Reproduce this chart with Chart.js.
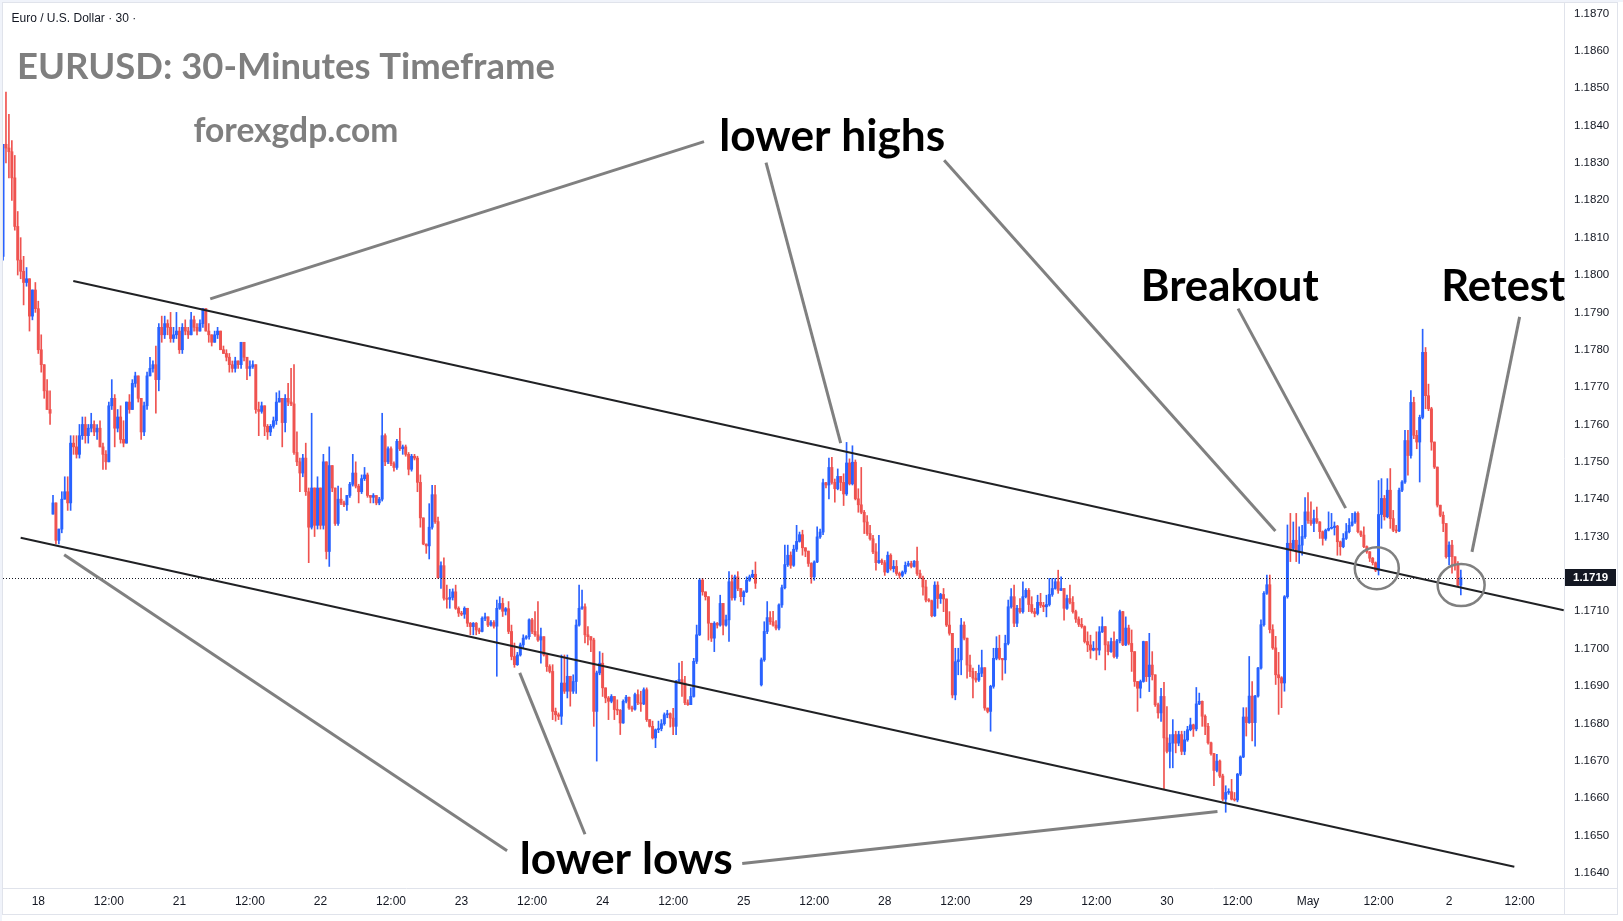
<!DOCTYPE html>
<html>
<head>
<meta charset="utf-8">
<title>EURUSD 30-Minutes Timeframe</title>
<script src="https://cdn.jsdelivr.net/npm/chart.js@4.4.1/dist/chart.umd.min.js"></script>
<style>
  html, body { margin: 0; padding: 0; background: #ffffff; overflow: hidden; }
  canvas { display: block; }
</style>
</head>
<body>
<canvas id="chart" width="1623" height="921"></canvas>
<script>
// 30 minute candles, slot 0 = 18 Apr 00:00, one slot per candle
const FIRST_SLOT = -12;

const opens = [
  1.1805,1.1835,1.1834,1.1833,1.1826,1.1813,1.1804,1.1801,1.1798,1.1799,1.1789,1.1796,
  1.1791,1.178,1.1776,1.1769,1.1764,1.1736,1.1739,1.1729,1.1732,1.174,1.1742,1.1739,1.1755,1.1754,1.1752,1.1757,1.176,1.1757,1.1759,1.176,1.1758,1.1759,1.1754,1.1752,
  1.175,1.1765,1.1767,1.1759,1.1762,1.1756,1.1755,1.1766,1.1764,1.1771,1.1773,1.1767,1.1758,1.1765,1.1773,1.1775,1.1776,1.1772,1.1786,1.1784,1.1787,1.1786,1.1783,1.1784,
  1.1785,1.178,1.1786,1.1785,1.1784,1.1788,1.1786,1.1785,1.1787,1.1791,1.1785,1.1784,1.1782,1.1784,1.1785,1.178,1.1779,1.1778,1.1776,1.1775,1.1777,1.1776,1.1782,1.1778,
  1.1775,1.17755,1.1776,1.1764,1.17635,1.1765,1.17595,1.1758,1.17595,1.1761,1.1766,1.1767,1.17605,1.1767,1.1766,1.17655,1.17525,1.175,1.1747,1.1751,1.1742,1.17325,1.1743,1.1733,
  1.1743,1.1733,1.175,1.1726,1.1749,1.1743,1.17335,1.174,1.1739,1.17385,1.1741,1.1744,1.1747,1.17435,1.1742,1.17455,1.17465,1.1741,1.17405,1.1741,1.1739,1.174,1.1757,1.175,
  1.17535,1.17495,1.17485,1.17555,1.17535,1.1754,1.1752,1.1748,1.17515,1.1751,1.17445,1.1735,1.1728,1.17275,1.17325,1.17412,1.1734,1.1719,1.17222,1.17135,1.17132,1.17137,1.17152,1.17108,
  1.17095,1.17092,1.17108,1.17068,1.17059,1.17068,1.1705,1.17046,1.17081,1.17085,1.17063,1.1707,1.1706,1.17108,1.17121,1.171,1.17107,1.17046,1.16979,1.16957,1.16983,1.1701,1.17028,1.17032,
  1.17077,1.17046,1.17037,1.17023,1.17032,1.16983,1.16952,1.16939,1.16832,1.16823,1.16819,1.16908,1.16886,1.16926,1.16886,1.16912,1.17063,1.17108,1.17112,1.17037,1.17032,1.17023,1.16832,1.16935,
  1.16961,1.16895,1.16868,1.16859,1.16872,1.16837,1.16835,1.16801,1.16859,1.1687,1.16841,1.16838,1.16877,1.16855,1.16852,1.1689,1.1681,1.16792,1.16761,1.16783,1.16786,1.16799,1.16823,1.16826,
  1.16814,1.16792,1.16912,1.16917,1.16908,1.16855,1.1685,1.16872,1.16966,1.17037,1.17183,1.17152,1.17139,1.17068,1.17028,1.17068,1.17063,1.17121,1.17063,1.17077,1.17179,1.17136,1.17192,1.17161,
  1.17139,1.17152,1.17183,1.17192,1.17199,null,1.16903,1.1697,1.17046,1.17083,1.17072,1.17063,1.17055,1.17117,1.17163,1.17225,1.1725,1.17223,1.17266,1.17287,1.17305,1.1727,1.17261,1.17228,
  1.17192,1.17232,1.17299,1.17312,1.17444,1.17438,1.17485,1.17445,1.17428,1.17461,1.17445,1.17414,1.17497,1.17441,1.17499,1.17401,1.17385,1.17365,1.17339,1.17308,1.17294,1.17259,1.1723,1.17236,
  1.1723,1.17205,1.1725,1.17214,1.1722,1.17201,1.17196,1.17205,1.17223,1.17228,1.1722,1.17234,1.17201,1.17189,1.17165,1.1713,1.17128,1.17088,1.1717,1.17134,1.17145,1.17133,1.17063,1.17041,
  1.16876,1.16965,1.1697,1.17063,1.17028,1.16956,1.16939,1.16921,1.16916,1.16934,1.16949,1.16841,1.16832,1.16899,1.16974,1.17001,1.16974,1.1697,1.17014,1.17112,1.17139,1.17068,1.17108,1.17099,
  1.17139,1.17156,1.17118,1.17099,1.17094,1.17124,1.17116,1.17112,1.17118,1.17145,1.17161,1.17179,1.17156,1.17161,1.17108,1.17134,1.17124,1.17099,1.17079,1.17065,1.17059,1.17019,1.1701,1.16996,
  1.17001,1.16996,1.17045,1.17059,1.1701,1.16992,1.17019,1.16979,1.17021,1.17099,1.1701,1.17055,1.17014,1.16992,1.16912,1.16894,1.16912,1.17019,1.16925,1.16956,1.1693,1.1685,1.16828,1.16872,
  1.16761,1.16725,1.16747,1.1677,1.16747,1.1677,1.16725,1.16756,1.16783,1.16796,1.16785,1.16852,1.16859,1.16819,1.16792,1.16748,1.16719,1.16674,1.16699,1.16659,1.16597,1.16615,1.16617,1.16597,
  1.16595,1.16664,1.1671,1.16817,1.16802,1.16873,1.16802,1.16873,1.16948,1.17064,1.17148,1.17171,1.17051,1.17002,1.1693,1.16922,1.16908,1.17139,1.17282,1.17268,1.1729,1.17259,1.17277,1.173,
  1.17366,1.17343,1.17335,1.17348,1.17339,1.17313,1.17295,1.17317,1.17322,1.17324,1.17328,1.17286,1.17273,1.17295,1.17313,1.1733,1.17339,1.17362,1.17313,1.17304,1.17273,1.17259,1.17242,1.1723,
  1.1721,1.17359,1.17402,1.17353,1.17424,1.17348,1.17317,1.17315,1.17424,1.17446,1.17557,1.17517,1.17659,1.17571,1.17553,1.17619,1.17793,1.17677,1.17642,1.17553,1.17486,1.17384,1.17357,1.17335,
  1.17246,1.17277,1.17246,1.17224,1.1717
];

const highs = [
  1.1835,1.1849,1.1843,1.1836,1.1832,1.1817,1.181,1.1805,1.1802,1.1799,1.1796,1.1798,
  1.1793,1.1784,1.1776,1.1772,1.1769,1.1741,1.1739,1.1732,1.1742,1.1746,1.1746,1.1757,1.1757,1.1757,1.176,1.1762,1.1762,1.176,1.1763,1.1761,1.176,1.1761,1.1755,1.1753,
  1.1766,1.1772,1.1768,1.1764,1.1765,1.1761,1.1766,1.1768,1.1772,1.1774,1.1773,1.1767,1.1766,1.1774,1.1778,1.1777,1.1781,1.1787,1.1789,1.1789,1.1788,1.179,1.1786,1.179,
  1.1786,1.1787,1.1788,1.1786,1.179,1.1789,1.1787,1.1788,1.1791,1.1791,1.1787,1.1784,1.1785,1.1786,1.1785,1.1781,1.178,1.1779,1.1777,1.1778,1.1777,1.1782,1.1782,1.1778,
  1.1777,1.1777,1.1776,1.1766,1.1766,1.1765,1.176,1.176,1.1762,1.17685,1.1769,1.1767,1.1768,1.1771,1.1775,1.1776,1.1758,1.1751,1.1752,1.1755,1.1743,1.1763,1.1743,1.1746,
  1.1743,1.1752,1.175,1.1754,1.1749,1.1743,1.17435,1.1743,1.17395,1.1741,1.17445,1.1752,1.175,1.1744,1.17465,1.17485,1.1747,1.1741,1.17415,1.1741,1.17405,1.1763,1.17575,1.1754,
  1.1754,1.175,1.1756,1.1759,1.17545,1.17545,1.17525,1.1752,1.1752,1.17515,1.17465,1.1735,1.1728,1.17388,1.17437,1.17437,1.17352,1.17232,1.17243,1.1717,1.17159,1.1716,1.1717,1.17112,
  1.171,1.17112,1.17108,1.1707,1.1707,1.1707,1.17055,1.17085,1.17095,1.17085,1.17075,1.17075,1.1713,1.17139,1.17135,1.1711,1.17126,1.17063,1.17015,1.1699,1.17015,1.17037,1.17035,1.1708,
  1.17081,1.17099,1.17126,1.17055,1.17032,1.16983,1.16957,1.16957,1.16841,1.16828,1.16983,1.16983,1.16983,1.16926,1.1693,1.17077,1.1717,1.17157,1.1712,1.17059,1.17032,1.17028,1.1694,1.16992,
  1.16988,1.16895,1.16872,1.16877,1.16872,1.16863,1.16837,1.16863,1.16875,1.1687,1.16846,1.16881,1.1689,1.16886,1.16895,1.16895,1.1681,1.16806,1.16785,1.16806,1.1681,1.16828,1.16835,1.16828,
  1.1684,1.16915,1.16961,1.16966,1.16926,1.16863,1.16895,1.16974,1.17063,1.17188,1.17188,1.17152,1.17139,1.17068,1.17072,1.1707,1.17143,1.17121,1.1709,1.17206,1.17197,1.17197,1.17206,1.17161,
  1.17155,1.17192,1.17197,1.1721,1.17232,null,1.16975,1.17072,1.17126,1.17099,1.171,1.17075,1.1712,1.1717,1.17277,1.17277,1.17259,1.17277,1.1733,1.17312,1.17317,1.1727,1.17261,1.1723,
  1.17235,1.17326,1.1732,1.17454,1.17445,1.1751,1.17512,1.17454,1.17481,1.17461,1.17468,1.17552,1.17508,1.17543,1.17505,1.17428,1.17485,1.1737,1.17356,1.1733,1.17303,1.17281,1.17303,1.1724,
  1.17236,1.17259,1.17254,1.17236,1.17236,1.17205,1.17208,1.17232,1.17234,1.17234,1.17236,1.17272,1.1721,1.17194,1.17183,1.17134,1.1713,1.17179,1.17179,1.17148,1.17161,1.17133,1.17099,1.17041,
  1.17001,1.17001,1.17081,1.17072,1.17028,1.16983,1.16948,1.16939,1.16956,1.16996,1.16949,1.16841,1.16902,1.17001,1.17032,1.17036,1.16974,1.17036,1.1713,1.17161,1.1717,1.17116,1.17134,1.17179,
  1.17161,1.17161,1.17139,1.17108,1.17143,1.17148,1.17124,1.17143,1.17188,1.17188,1.17188,1.1721,1.17192,1.17161,1.17143,1.1717,1.17139,1.17103,1.17085,1.17081,1.17061,1.17045,1.17036,1.17019,
  1.17045,1.17059,1.17085,1.17059,1.17019,1.17028,1.17045,1.17025,1.17103,1.171,1.17085,1.17063,1.1705,1.16992,1.16912,1.16916,1.1702,1.17019,1.17041,1.16992,1.1693,1.16854,1.16894,1.1691,
  1.16845,1.1677,1.1681,1.16779,1.16779,1.16779,1.16779,1.16792,1.16814,1.16798,1.16896,1.16881,1.1686,1.16823,1.168,1.1675,1.1672,1.16717,1.16702,1.16664,1.16633,1.16625,1.1665,1.16615,
  1.16666,1.16713,1.16842,1.16842,1.16979,1.16912,1.16875,1.1695,1.17077,1.17153,1.17197,1.17197,1.17064,1.17033,1.1699,1.16925,1.17142,1.17331,1.17362,1.17339,1.17362,1.17326,1.1733,1.17404,
  1.17418,1.17393,1.17371,1.17379,1.1734,1.17315,1.1732,1.17366,1.17362,1.17339,1.1733,1.17288,1.17308,1.17335,1.17348,1.17362,1.17366,1.17366,1.17315,1.17326,1.17275,1.1726,1.17244,1.17232,
  1.1745,1.17455,1.1741,1.17455,1.17482,1.1737,1.1733,1.1743,1.1745,1.17584,1.17584,1.17691,1.17673,1.17584,1.17625,1.17855,1.17806,1.17708,1.17646,1.17553,1.17486,1.17384,1.17366,1.17335,
  1.17286,1.1729,1.17246,1.17233,1.1721
];

const lows = [
  1.1804,1.183,1.1826,1.182,1.1812,1.18,1.1799,1.1792,1.1797,1.1785,1.1788,1.179,
  1.1779,1.1774,1.1767,1.1764,1.176,1.1736,1.1728,1.1728,1.1731,1.174,1.1737,1.1737,1.1752,1.1751,1.1751,1.1756,1.1755,1.1755,1.1758,1.1757,1.1756,1.1754,1.1748,1.1748,
  1.175,1.1764,1.1754,1.1758,1.1755,1.1754,1.1755,1.1763,1.1764,1.177,1.1766,1.1756,1.1757,1.1764,1.1773,1.1774,1.1763,1.1769,1.1782,1.1783,1.1784,1.1782,1.1782,1.1783,
  1.1779,1.1779,1.1784,1.1783,1.1784,1.1785,1.1784,1.1785,1.1786,1.1785,1.1782,1.1781,1.1782,1.1783,1.178,1.1779,1.1777,1.1774,1.1774,1.1774,1.1775,1.1775,1.1777,1.1772,
  1.1773,1.1775,1.1763,1.1757,1.1763,1.1757,1.1756,1.1757,1.1759,1.176,1.1766,1.1754,1.1758,1.1765,1.1765,1.1752,1.1749,1.1742,1.1746,1.1741,1.1723,1.1732,1.173,1.1732,
  1.1732,1.1732,1.1724,1.1722,1.1742,1.1733,1.1733,1.17385,1.1738,1.1737,1.17405,1.17435,1.1743,1.1739,1.17415,1.1745,1.17405,1.1739,1.1739,1.17385,1.17385,1.17395,1.1749,1.17495,
  1.1749,1.17475,1.1748,1.1753,1.1752,1.17515,1.17465,1.17475,1.17505,1.1742,1.17325,1.17278,1.17255,1.1724,1.1732,1.17335,1.17188,1.17161,1.1713,1.17108,1.17108,1.1713,1.17105,1.17086,
  1.17088,1.17081,1.17059,1.17037,1.17037,1.17037,1.1704,1.17045,1.17075,1.17059,1.1706,1.17055,1.16926,1.17105,1.17086,1.1709,1.1704,1.1697,1.1695,1.16955,1.1698,1.17,1.17025,1.17025,
  1.1704,1.17033,1.17019,1.16961,1.1698,1.16939,1.16935,1.1681,1.16806,1.1681,1.16797,1.1688,1.16868,1.16846,1.1688,1.1688,1.1706,1.17105,1.17015,1.1701,1.16992,1.16792,1.16699,1.1693,
  1.16872,1.16855,1.1681,1.16855,1.1681,1.16823,1.1677,1.168,1.16855,1.16837,1.16832,1.16835,1.1685,1.16832,1.1685,1.16805,1.1679,1.16758,1.16735,1.16775,1.1678,1.16795,1.16815,1.1679,
  1.1677,1.1677,1.1691,1.16872,1.1685,1.16848,1.1685,1.1687,1.1696,1.17035,1.17143,1.1713,1.17023,1.17019,1.16992,1.17055,1.1706,1.17037,1.1706,1.17019,1.1713,1.1713,1.17155,1.17126,
  1.17117,1.1715,1.1718,1.1719,1.17161,null,1.169,1.16966,1.1704,1.17065,1.1706,1.1705,1.1705,1.1711,1.1716,1.1722,1.17215,1.1722,1.1726,1.17285,1.1725,1.17246,1.1722,1.17175,
  1.17183,1.1723,1.17295,1.17305,1.1743,1.17401,1.1744,1.17392,1.17425,1.17423,1.17383,1.1741,1.17438,1.17438,1.17398,1.17365,1.17361,1.17308,1.17303,1.1729,1.17254,1.1721,1.17228,1.17225,
  1.17196,1.17203,1.1721,1.17205,1.17196,1.17188,1.17192,1.172,1.1722,1.17216,1.17218,1.17196,1.17188,1.17143,1.17125,1.17125,1.17085,1.17086,1.17108,1.17121,1.17099,1.17059,1.17036,1.16868,
  1.16863,1.1693,1.1693,1.17023,1.16921,1.16925,1.16868,1.1691,1.16912,1.16925,1.16835,1.16828,1.16779,1.16894,1.1697,1.1697,1.16916,1.16934,1.1701,1.17108,1.17059,1.17059,1.17095,1.17095,
  1.17136,1.17099,1.17095,1.17085,1.1709,1.1711,1.17099,1.17085,1.17114,1.1714,1.17159,1.17148,1.17155,1.17076,1.17105,1.1712,1.17095,1.1707,1.17059,1.17055,1.17015,1.16992,1.16974,1.16994,
  1.1697,1.16983,1.17043,1.16943,1.16983,1.1699,1.16975,1.16974,1.17015,1.17008,1.17008,1.1701,1.16939,1.16899,1.16832,1.16868,1.1691,1.16912,1.16885,1.16916,1.16845,1.16814,1.16805,1.16623,
  1.16721,1.16681,1.16681,1.16721,1.1674,1.16716,1.16716,1.16752,1.1678,1.16765,1.1678,1.1685,1.16792,1.1677,1.16744,1.16715,1.16633,1.1667,1.16655,1.16593,1.16562,1.1661,1.16595,1.16592,
  1.1659,1.1666,1.16708,1.16766,1.168,1.16753,1.16739,1.1687,1.16945,1.1706,1.17145,1.17042,1.16998,1.16904,1.16824,1.16842,1.16886,1.17135,1.17233,1.17265,1.17233,1.17228,1.1725,1.17295,
  1.17335,1.1733,1.17313,1.17335,1.17295,1.17277,1.1729,1.17315,1.1732,1.17304,1.1725,1.1725,1.1727,1.17292,1.1731,1.17328,1.17335,1.1731,1.173,1.1727,1.17255,1.17233,1.17224,1.17206,
  1.17197,1.17322,1.17344,1.1735,1.17322,1.17313,1.1731,1.17313,1.1742,1.17442,1.17464,1.1751,1.17562,1.17535,1.17446,1.17615,1.17642,1.17637,1.17531,1.17482,1.17379,1.17353,1.17313,1.17242,
  1.17224,1.17202,1.1721,1.17168,1.17144
];

const closes = [
  1.1835,1.1834,1.1833,1.1826,1.1813,1.1804,1.1801,1.1798,1.1799,1.1789,1.1796,1.1791,
  1.178,1.1776,1.1769,1.1764,1.1763,1.1739,1.1729,1.1732,1.174,1.1742,1.1739,1.1755,1.1754,1.1752,1.1757,1.176,1.1757,1.1759,1.176,1.1758,1.1759,1.1754,1.1752,1.175,
  1.1765,1.1767,1.1759,1.1762,1.1756,1.1755,1.1766,1.1764,1.1771,1.1773,1.1767,1.1758,1.1765,1.1773,1.1775,1.1776,1.1772,1.1786,1.1784,1.1787,1.1786,1.1783,1.1784,1.1785,
  1.178,1.1786,1.1785,1.1784,1.1788,1.1786,1.1785,1.1787,1.1791,1.1785,1.1784,1.1782,1.1784,1.1785,1.178,1.1779,1.1778,1.1776,1.1775,1.1777,1.1776,1.1782,1.1778,1.1775,
  1.17755,1.1776,1.1764,1.17635,1.1765,1.17595,1.1758,1.17595,1.1761,1.1766,1.1767,1.17605,1.1767,1.1766,1.17655,1.17525,1.175,1.1747,1.1751,1.1742,1.17325,1.1743,1.1733,1.1743,
  1.1733,1.175,1.1726,1.1749,1.1743,1.17335,1.174,1.1739,1.17385,1.1741,1.1744,1.1747,1.17435,1.1742,1.17455,1.17465,1.1741,1.17405,1.1741,1.1739,1.174,1.1757,1.175,1.17535,
  1.17495,1.17485,1.17555,1.17535,1.1754,1.1752,1.1748,1.17515,1.1751,1.17445,1.1735,1.1728,1.17275,1.17325,1.17412,1.1734,1.1719,1.17222,1.17135,1.17132,1.17137,1.17152,1.17108,1.17095,
  1.17092,1.17108,1.17068,1.17059,1.17068,1.1705,1.17046,1.17081,1.17085,1.17063,1.1707,1.1706,1.17108,1.17121,1.171,1.17107,1.17046,1.16979,1.16957,1.16983,1.1701,1.17028,1.17032,1.17077,
  1.17046,1.17037,1.17023,1.17032,1.16983,1.16952,1.16939,1.16832,1.16823,1.16819,1.16908,1.16886,1.16926,1.16886,1.16912,1.17063,1.17108,1.17112,1.17037,1.17032,1.17023,1.16832,1.16935,1.16961,
  1.16895,1.16868,1.16859,1.16872,1.16837,1.16835,1.16801,1.16859,1.1687,1.16841,1.16838,1.16877,1.16855,1.16852,1.1689,1.1681,1.16792,1.16761,1.16783,1.16786,1.16799,1.16823,1.16826,1.16814,
  1.16792,1.16912,1.16917,1.16908,1.16855,1.1685,1.16872,1.16966,1.17037,1.17183,1.17152,1.17139,1.17068,1.17028,1.17068,1.17063,1.17121,1.17063,1.17077,1.17179,1.17136,1.17192,1.17161,1.17139,
  1.17152,1.17183,1.17192,1.17199,1.17175,null,1.1697,1.17046,1.17083,1.17072,1.17063,1.17055,1.17117,1.17163,1.17225,1.1725,1.17223,1.17266,1.17287,1.17305,1.1727,1.17261,1.17228,1.17192,
  1.17232,1.17299,1.17312,1.17444,1.17438,1.17485,1.17445,1.17428,1.17461,1.17445,1.17414,1.17497,1.17441,1.17499,1.17401,1.17385,1.17365,1.17339,1.17308,1.17294,1.17259,1.1723,1.17236,1.1723,
  1.17205,1.1725,1.17214,1.1722,1.17201,1.17196,1.17205,1.17223,1.17228,1.1722,1.17234,1.17201,1.17189,1.17165,1.1713,1.17128,1.17088,1.1717,1.17134,1.17145,1.17133,1.17063,1.17041,1.16876,
  1.16965,1.1697,1.17063,1.17028,1.16956,1.16939,1.16921,1.16916,1.16934,1.16949,1.16841,1.16832,1.16899,1.16974,1.17001,1.16974,1.1697,1.17014,1.17112,1.17139,1.17068,1.17108,1.17099,1.17139,
  1.17156,1.17118,1.17099,1.17094,1.17124,1.17116,1.17112,1.17118,1.17145,1.17161,1.17179,1.17156,1.17161,1.17108,1.17134,1.17124,1.17099,1.17079,1.17065,1.17059,1.17019,1.1701,1.16996,1.17001,
  1.16996,1.17045,1.17059,1.1701,1.16992,1.17019,1.16979,1.17021,1.17099,1.1701,1.17055,1.17014,1.16992,1.16912,1.16894,1.16912,1.17019,1.16925,1.16956,1.1693,1.1685,1.16828,1.16872,1.16761,
  1.16725,1.16747,1.1677,1.16747,1.1677,1.16725,1.16756,1.16783,1.16796,1.16785,1.16852,1.16859,1.16819,1.16792,1.16748,1.16719,1.16674,1.16699,1.16659,1.16597,1.16615,1.16617,1.16597,1.16595,
  1.16664,1.1671,1.16817,1.16802,1.16873,1.16802,1.16873,1.16948,1.17064,1.17148,1.17171,1.17051,1.17002,1.1693,1.16922,1.16908,1.17139,1.17282,1.17268,1.1729,1.17259,1.17277,1.173,1.17366,
  1.17343,1.17335,1.17348,1.17339,1.17313,1.17295,1.17317,1.17322,1.17324,1.17328,1.17286,1.17273,1.17295,1.17313,1.1733,1.17339,1.17362,1.17313,1.17304,1.17273,1.17259,1.17242,1.1723,1.1721,
  1.17359,1.17402,1.17353,1.17424,1.17348,1.17317,1.17315,1.17424,1.17446,1.17557,1.17517,1.17659,1.17571,1.17553,1.17619,1.17793,1.17677,1.17642,1.17553,1.17486,1.17384,1.17357,1.17335,1.17246,
  1.17277,1.17246,1.17224,1.1717,1.1719
];

// time axis labels, placed at candle slots
const timeTickSlots = [0, 24, 48, 72, 96, 120, 144, 168, 192, 216, 240, 264, 288, 312, 336, 360, 384, 408, 432, 456, 480, 504];
const timeTickLabels = ['18', '12:00', '21', '12:00', '22', '12:00', '23', '12:00', '24', '12:00', '25', '12:00', '28', '12:00', '29', '12:00', '30', '12:00', 'May', '12:00', '2', '12:00'];

// price labels (1.1720 is hidden behind the last price tag)
const priceTicks = [1.164, 1.165, 1.166, 1.167, 1.168, 1.169, 1.17, 1.171, 1.173, 1.174, 1.175, 1.176,
  1.177, 1.178, 1.179, 1.18, 1.181, 1.182, 1.183, 1.184, 1.185, 1.186, 1.187];

// drawings, in [slot, price]
const channelLines = [
  [[11.9, 1.17984], [519, 1.17103]],
  [[-6.0, 1.17297], [502.2, 1.16416]]
];
const pointerLines = [
  [[58.5, 1.17936], [226.5, 1.18357]],
  [[273.0, 1.17550], [247.6, 1.18301]],
  [[420.9, 1.17315], [308.2, 1.18307]],
  [[444.8, 1.17376], [408.2, 1.17910]],
  [[487.8, 1.17259], [504.0, 1.17888]],
  [[186.0, 1.16503], [163.8, 1.16935]],
  [[159.5, 1.16459], [8.8, 1.17251]],
  [[239.5, 1.16425], [401.2, 1.16564]]
];
const retestCircles = [[455.4, 1.17215], [484.1, 1.17170]];
const drawingLabels = [
  { text: 'lower highs', at: [231.7, 1.18332], width: 226 },
  { text: 'Breakout', at: [375.1, 1.17930], width: 178 },
  { text: 'Retest', at: [477.3, 1.17930], width: 124 },
  { text: 'lower lows', at: [163.8, 1.16398], width: 213 }
];

const UP_COLOR = '#2962ff';
const DOWN_COLOR = '#ef5350';
const LABEL_FONT = 'Lato, "Open Sans", sans-serif';

const bodyData = [];
const wickData = [];
const candleColors = [];
for (let i = 0; i < closes.length; i++) {
  if (closes[i] === null) continue;
  const slot = FIRST_SLOT + i;
  bodyData.push({ x: slot, y: [opens[i], closes[i]] });
  wickData.push({ x: slot, y: [lows[i], highs[i]] });
  candleColors.push(closes[i] >= opens[i] ? UP_COLOR : DOWN_COLOR);
}

function fitFont(c, text, width) {
  c.font = `bold 100px ${LABEL_FONT}`;
  const size = 100 * width / c.measureText(text).width;
  return `bold ${size.toFixed(2)}px ${LABEL_FONT}`;
}

const overlayPlugin = {
  id: 'overlay',
  beforeDraw(chart) {
    const c = chart.ctx;
    c.save();
    c.fillStyle = '#ffffff';
    c.fillRect(0, 0, chart.width, chart.height);
    c.fillStyle = '#f0f3fa';
    c.fillRect(0, 0, chart.width, 2);
    c.fillRect(0, 0, 2, chart.height);
    c.restore();
  },
  afterDatasetsDraw(chart) {
    const c = chart.ctx;
    const xs = chart.scales.x;
    const ys = chart.scales.y;
    const area = chart.chartArea;
    const px = (p) => [xs.getPixelForValue(p[0]), ys.getPixelForValue(p[1])];

    c.save();
    c.beginPath();
    c.rect(area.left, area.top, area.right - area.left, area.bottom - area.top);
    c.clip();

    // last price line
    const lastY = Math.round(ys.getPixelForValue(closes[closes.length - 1])) + 0.5;
    c.strokeStyle = '#131722';
    c.lineWidth = 1;
    c.setLineDash([1, 2]);
    c.beginPath();
    c.moveTo(area.left, lastY);
    c.lineTo(area.right, lastY);
    c.stroke();
    c.setLineDash([]);

    // channel
    c.strokeStyle = '#202124';
    c.lineWidth = 2;
    channelLines.forEach(([a, b]) => {
      const p1 = px(a), p2 = px(b);
      c.beginPath();
      c.moveTo(p1[0], p1[1]);
      c.lineTo(p2[0], p2[1]);
      c.stroke();
    });

    // pointers
    c.strokeStyle = '#808080';
    c.lineWidth = 3;
    pointerLines.forEach(([a, b]) => {
      const p1 = px(a), p2 = px(b);
      c.beginPath();
      c.moveTo(p1[0], p1[1]);
      c.lineTo(p2[0], p2[1]);
      c.stroke();
    });

    c.lineWidth = 2.5;
    const radii = [[22, 21], [23.5, 21]];
    retestCircles.forEach((pt, i) => {
      const p = px(pt);
      c.beginPath();
      c.ellipse(p[0], p[1], radii[i][0], radii[i][1], 0, 0, Math.PI * 2);
      c.stroke();
    });
    c.restore();
  },
  afterDraw(chart) {
    const c = chart.ctx;
    const xs = chart.scales.x;
    const ys = chart.scales.y;
    const area = chart.chartArea;

    c.save();
    // frame and axis separators
    c.strokeStyle = '#e0e3eb';
    c.lineWidth = 1;
    c.strokeRect(2.5, 2.5, 1615, 912);
    c.beginPath();
    c.moveTo(Math.round(area.right) + 0.5, 3);
    c.lineTo(Math.round(area.right) + 0.5, 914);
    c.moveTo(3, Math.round(area.bottom) + 0.5);
    c.lineTo(1617, Math.round(area.bottom) + 0.5);
    c.stroke();

    // header
    c.fillStyle = '#131722';
    c.font = '12px "Liberation Sans", Arial, sans-serif';
    c.textBaseline = 'alphabetic';
    c.textAlign = 'left';
    c.fillText('Euro / U.S. Dollar \u00b7 30 \u00b7', 11.5, 21.5);

    c.fillStyle = '#7f7f7f';
    c.font = fitFont(c, 'EURUSD: 30-Minutes Timeframe', 538);
    c.fillText('EURUSD: 30-Minutes Timeframe', 17, 78.5);
    c.font = fitFont(c, 'forexgdp.com', 205);
    c.fillText('forexgdp.com', 193.5, 142);

    c.fillStyle = '#000000';
    drawingLabels.forEach((lab) => {
      c.font = fitFont(c, lab.text, lab.width);
      c.fillText(lab.text, xs.getPixelForValue(lab.at[0]), ys.getPixelForValue(lab.at[1]));
    });

    // last price tag
    const last = closes[closes.length - 1];
    const yTag = ys.getPixelForValue(last);
    c.fillStyle = '#131722';
    c.fillRect(Math.round(area.right) + 1, Math.round(yTag - 8.5), 51, 17);
    c.fillStyle = '#ffffff';
    c.font = 'bold 11.5px "Liberation Sans", Arial, sans-serif';
    c.textBaseline = 'middle';
    c.fillText(last.toFixed(4), Math.round(area.right) + 9, yTag + 0.5);
    c.restore();
  }
};

new Chart(document.getElementById('chart').getContext('2d'), {
  type: 'bar',
  data: {
    datasets: [
      { label: 'wicks', data: wickData, backgroundColor: candleColors, barThickness: 1, grouped: false, borderWidth: 0, order: 2 },
      { label: 'bodies', data: bodyData, backgroundColor: candleColors, barThickness: 2.3, minBarLength: 1, grouped: false, borderWidth: 0, order: 1 }
    ]
  },
  options: {
    responsive: false,
    animation: false,
    devicePixelRatio: 1,
    events: [],
    layout: { padding: { left: 3, top: 3, right: 0, bottom: 0 } },
    plugins: { legend: { display: false }, tooltip: { enabled: false } },
    scales: {
      x: {
        type: 'linear',
        min: -12.01,
        max: 519.1,
        offset: false,
        grid: { display: false, drawTicks: false },
        border: { display: false },
        afterBuildTicks: (s) => { s.ticks = timeTickSlots.map((v) => ({ value: v })); },
        afterFit: (s) => { s.height = 33; s.paddingLeft = 0; s.paddingRight = 0; },
        ticks: {
          autoSkip: false,
          maxRotation: 0,
          minRotation: 0,
          padding: 6,
          color: '#131722',
          font: { family: '"Liberation Sans", Arial, sans-serif', size: 12 },
          callback: (v) => timeTickLabels[timeTickSlots.indexOf(v)]
        }
      },
      y: {
        type: 'linear',
        position: 'right',
        min: 1.163593,
        max: 1.187281,
        grid: { display: false, drawTicks: false },
        border: { display: false },
        afterBuildTicks: (s) => { s.ticks = priceTicks.map((v) => ({ value: v })); },
        afterFit: (s) => { s.width = 59; s.paddingTop = 0; s.paddingBottom = 0; },
        ticks: {
          padding: 10,
          color: '#131722',
          font: { family: '"Liberation Sans", Arial, sans-serif', size: 11.5 },
          callback: (v) => v.toFixed(4)
        }
      }
    }
  },
  plugins: [overlayPlugin]
});
</script>
</body>
</html>
